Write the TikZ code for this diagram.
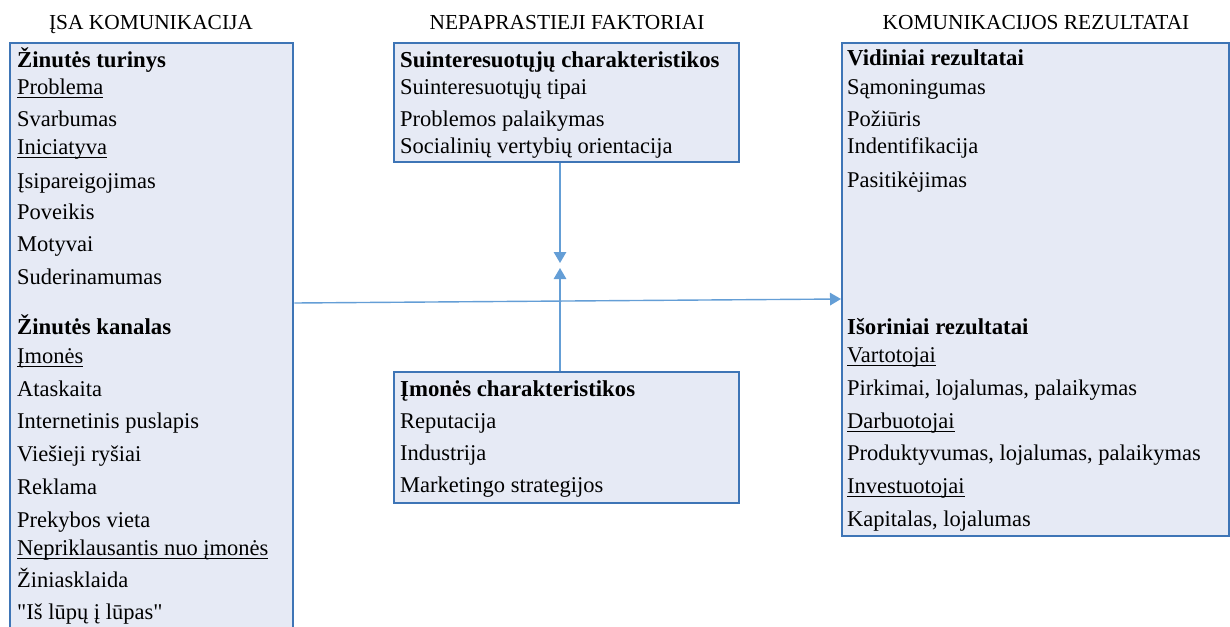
\documentclass[tikz,border=0pt]{standalone}
\usepackage{fontspec}
\setmainfont{Liberation Serif}[Ligatures=TeXOff]
\usetikzlibrary{arrows.meta}
\definecolor{boxline}{RGB}{62,117,182}
\definecolor{boxfill}{RGB}{230,234,245}
\definecolor{arrowblue}{RGB}{100,158,214}

% underline at a fixed depth, crossing descenders
\newcommand\ulword[1]{\setbox0\hbox{#1}\rlap{\rule[-3.8pt]{\wd0}{1.3pt}}\box0}

\begin{document}
\begin{tikzpicture}[x=1pt,y=-1pt,
  panel/.style={draw=boxline, line width=2.4pt, fill=boxfill, anchor=north west, inner sep=0pt},
  item/.style={anchor=base west, inner sep=0pt, font=\fontsize{22.5}{26}\selectfont},
  head/.style={anchor=base west, inner sep=0pt, font=\fontsize{22.8}{26}\selectfont\bfseries},
  title/.style={anchor=base, inner sep=0pt, font=\fontsize{21.4}{24}\selectfont},
  link/.style={draw=arrowblue, line width=1.4pt, -{Triangle[length=11pt,width=12.5pt]}}]
\useasboundingbox (0,0) rectangle (1230,626);
\clip (0,0) rectangle (1230,626);

% column titles
\node[title] (t1) at (151,30) {ĮSA KOMUNIKACIJA};
\node[title] (t2) at (567,30) {NEPAPRASTIEJI FAKTORIAI};
\node[title] (t3) at (1036,30) {KOMUNIKACIJOS REZULTATAI};

% panels
\node[panel, minimum width=283pt, minimum height=620pt] (left) at (9,42) {};
\node[panel, minimum width=345pt, minimum height=119pt] (top) at (393,42) {};
\node[panel, minimum width=345pt, minimum height=131pt] (bottom) at (393,371) {};
\node[panel, minimum width=387pt, minimum height=493pt] (right) at (841,42) {};

% left panel
\node[head] (a1) at (17,67) {Žinutės turinys};
\node[item] (a2) at (17,94) {\ulword{Problema}};
\node[item] (a3) at (17,126) {Svarbumas};
\node[item] (a4) at (17,154) {\ulword{Iniciatyva}};
\node[item] (a5) at (17,188) {Įsipareigojimas};
\node[item] (a6) at (17,219) {Poveikis};
\node[item] (a7) at (17,251) {Motyvai};
\node[item] (a8) at (17,284) {Suderinamumas};
\node[head] (a9) at (17,334) {Žinutės kanalas};
\node[item] (a10) at (17,363) {\ulword{Įmonės}};
\node[item] (a11) at (17,396) {Ataskaita};
\node[item] (a12) at (17,428) {Internetinis puslapis};
\node[item] (a13) at (17,461) {Viešieji ryšiai};
\node[item] (a14) at (17,494) {Reklama};
\node[item] (a15) at (17,527) {Prekybos vieta};
\node[item] (a16) at (17,555) {\ulword{Nepriklausantis nuo įmonės}};
\node[item] (a17) at (17,587) {Žiniasklaida};
\node[item] (a18) at (17,619) {"Iš lūpų į lūpas"};

% middle panels
\node[head] (b1) at (400,67) {Suinteresuotųjų charakteristikos};
\node[item] (b2) at (400,94) {Suinteresuotųjų tipai};
\node[item] (b3) at (400,126) {Problemos palaikymas};
\node[item] (b4) at (400,153) {Socialinių vertybių orientacija};

\node[head] (c1) at (400,396) {Įmonės charakteristikos};
\node[item] (c2) at (400,428) {Reputacija};
\node[item] (c3) at (400,460) {Industrija};
\node[item] (c4) at (400,492) {Marketingo strategijos};

% right panel
\node[head] (d1) at (847,66) {Vidiniai rezultatai};
\node[item] (d2) at (847,94) {Sąmoningumas};
\node[item] (d3) at (847,126) {Požiūris};
\node[item] (d4) at (847,153) {Indentifikacija};
\node[item] (d5) at (847,187) {Pasitikėjimas};
\node[head] (d6) at (847,334) {Išoriniai rezultatai};
\node[item] (d7) at (847,362) {\ulword{Vartotojai}};
\node[item] (d8) at (847,395) {Pirkimai, lojalumas, palaikymas};
\node[item] (d9) at (847,428) {\ulword{Darbuotojai}};
\node[item] (d10) at (847,460) {Produktyvumas, lojalumas, palaikymas};
\node[item] (d11) at (847,493) {\ulword{Investuotojai}};
\node[item] (d12) at (847,526) {Kapitalas, lojalumas};

% connectors
\coordinate (lout) at (left.east |- 0,303);
\coordinate (rin) at (right.west |- 0,299);
\draw[link] (lout) -- (rin);

\coordinate (tout) at (560,0 |- top.south);
\coordinate (bout) at (560,0 |- bottom.north);
\coordinate (dtip) at (560,263);
\coordinate (utip) at (560,268);
\draw[link] (tout) -- (dtip);
\draw[link] (bout) -- (utip);
\end{tikzpicture}
\end{document}
